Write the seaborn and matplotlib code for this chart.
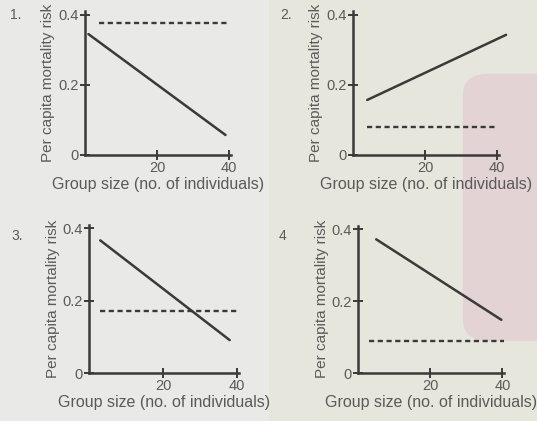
import numpy as np
import pandas as pd
import matplotlib
matplotlib.use("Agg")
import matplotlib.pyplot as plt
from matplotlib.patches import FancyBboxPatch, Rectangle
import seaborn as sns

# Per capita mortality risk vs group size, four alternative scenarios
panels = ["1.", "2.", "3.", "4"]
solid_x = [[1, 39], [4, 42.5], [3, 38], [5, 39.7]]
solid_y = [[0.345, 0.057], [0.157, 0.343], [0.367, 0.091], [0.372, 0.148]]
dashed_x = [[4, 40], [4, 40], [3, 40], [3, 40.5]]
dashed_y = [0.378, 0.081, 0.172, 0.090]
x_ticks = [20, 40]
y_ticks = [0, 0.2, 0.4]
y_ticklabels = ["0", "0.2", "0.4"]
x_label = "Group size (no. of individuals)"
y_label = "Per capita mortality risk"

sns.set_style("ticks")
plt.rcParams["font.family"] = ["Liberation Sans", "DejaVu Sans"]

ink = "#3a3a3a"
text_c = "#5a5a5a"

fig = plt.figure(figsize=(5.37, 4.21), dpi=100)
fig.patch.set_facecolor("#e9e9e7")
# paper tint behind the right-hand column
fig.patches.append(Rectangle((0.5, 0.0), 0.5, 1.0, transform=fig.transFigure,
                             facecolor="#e7e6dc", edgecolor="none", zorder=-2))
fig.patches.append(FancyBboxPatch((0.862, 0.19), 0.2, 0.635, transform=fig.transFigure,
                                  boxstyle="round,pad=0,rounding_size=0.05",
                                  facecolor="#e3d3d5", edgecolor="none", zorder=-1))

boxes = [
    (0.158, 0.632, 0.272, 0.341),
    (0.657, 0.632, 0.272, 0.341),
    (0.166, 0.114, 0.279, 0.352),
    (0.667, 0.114, 0.272, 0.350),
]
num_pos = [(0.018, 0.965), (0.522, 0.965), (0.022, 0.44), (0.518, 0.44)]

for i, box in enumerate(boxes):
    ax = fig.add_axes(box)
    ax.set_facecolor("none")
    solid = pd.DataFrame({"size": solid_x[i], "risk": solid_y[i]})
    dashed = pd.DataFrame({"size": dashed_x[i], "risk": [dashed_y[i]] * 2})
    sns.lineplot(data=solid, x="size", y="risk", ax=ax, color=ink, lw=1.8,
                 clip_on=False)
    sns.lineplot(data=dashed, x="size", y="risk", ax=ax, color=ink, lw=1.7,
                 dashes=False, clip_on=False)
    ax.lines[-1].set_dashes([2.2, 1.5])
    ax.set_xlim(0, 40.5)
    ax.set_ylim(0, 0.41)
    sns.despine(ax=ax)
    for s in ("left", "bottom"):
        ax.spines[s].set_linewidth(1.8)
        ax.spines[s].set_color(ink)
    ax.set_xticks(x_ticks)
    ax.set_xticklabels([str(t) for t in x_ticks])
    ax.set_yticks(y_ticks)
    ax.set_yticklabels(y_ticklabels)
    ax.tick_params(direction="inout", length=7, width=1.4, color=ink,
                   labelsize=10.5, labelcolor=text_c, pad=1)
    ax.set_xlabel(x_label, fontsize=11.5, color=text_c, labelpad=1)
    ax.set_ylabel(y_label, fontsize=11, color=text_c, labelpad=2)
    fig.text(num_pos[i][0], num_pos[i][1], panels[i], fontsize=10,
             color=text_c, va="center")

fig.savefig("out.png", dpi=100, facecolor=fig.get_facecolor())
